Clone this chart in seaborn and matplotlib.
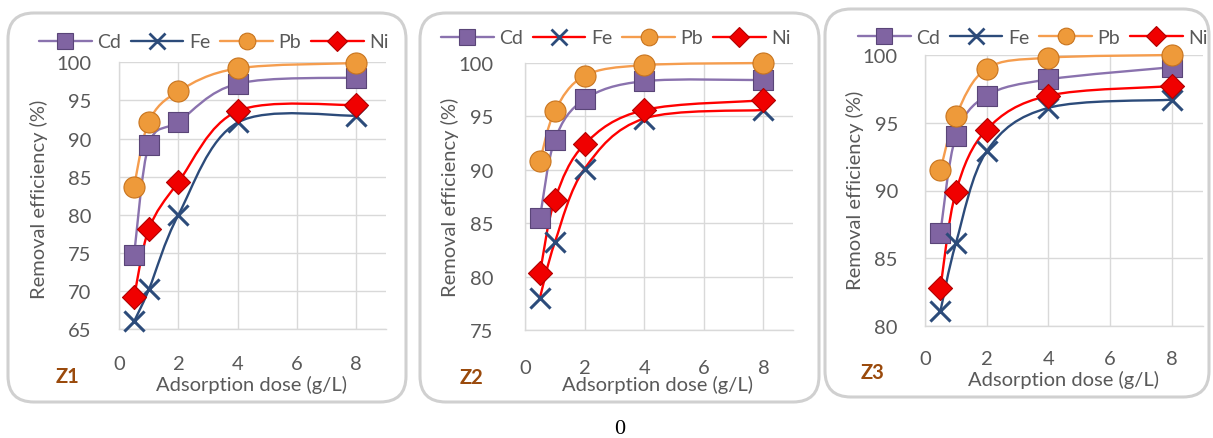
import numpy as np
import matplotlib
matplotlib.use("Agg")
import matplotlib.pyplot as plt
import seaborn as sns
from matplotlib.path import Path
from matplotlib.patches import PathPatch, FancyBboxPatch
from matplotlib.lines import Line2D

# ---------------- data ----------------
dose = [0.5, 1, 2, 4, 8]
metals = ["Cd", "Fe", "Pb", "Ni"]

z1_cd = [74.7, 89.2, 92.2, 97.2, 98.0]
z1_fe = [66.0, 70.2, 80.0, 92.1, 93.0]
z1_pb = [83.7, 92.2, 96.2, 99.2, 99.9]
z1_ni = [69.2, 78.1, 84.3, 93.6, 94.4]

z2_cd = [85.5, 92.8, 96.6, 98.3, 98.4]
z2_fe = [78.0, 83.2, 90.1, 94.8, 95.6]
z2_pb = [90.8, 95.5, 98.8, 99.8, 100.0]
z2_ni = [80.3, 87.2, 92.4, 95.6, 96.5]

z3_cd = [86.9, 94.0, 97.0, 98.2, 99.1]
z3_fe = [81.1, 86.1, 92.9, 96.1, 96.7]
z3_pb = [91.5, 95.5, 99.0, 99.8, 100.0]
z3_ni = [82.8, 89.9, 94.5, 97.0, 97.7]

panel_names = ["Z1", "Z2", "Z3"]
y_ranges = [(65, 100), (75, 100), (80, 100)]
x_ticks = [0, 2, 4, 6, 8]
x_label = "Adsorption dose (g/L)"
y_label = "Removal efficiency (%)"
footer = "0"

panels = [
    [z1_cd, z1_fe, z1_pb, z1_ni],
    [z2_cd, z2_fe, z2_pb, z2_ni],
    [z3_cd, z3_fe, z3_pb, z3_ni],
]

# ---------------- style ----------------
W, H = 1213, 439
sns.set_theme(style="white")
plt.rcParams["font.family"] = ["Lato", "DejaVu Sans"]

TXT = "#595959"
GRID = "#D9D9D9"
marker_style = {
    "Cd": dict(marker="s", face="#8064A2", edge="#5A4578", s=200, line="#8A72AE", ms=11.5),
    "Fe": dict(marker="x", face="#2C4B7A", edge="#2C4B7A", s=210, line="#2C4B7A", ms=11),
    "Pb": dict(marker="o", face="#EE9A3A", edge="#C8741E", s=230, line="#F59D4E", ms=12),
    "Ni": dict(marker="D", face="#F00000", edge="#B00000", s=150, line="#FF0000", ms=10),
}
# per-panel line colour overrides (Z2 Fe curve is red in the original)
line_override = [{}, {"Fe": "#FF0000"}, {}]

# pixel geometry: (left, top, right, bottom)
axes_px = [(119.3, 63.3, 385.7, 330.0),
           (525.0, 64.0, 793.3, 331.0),
           (925.0, 56.0, 1202.7, 327.0)]
boxes_px = [(8, 14, 406, 403), (420, 14, 819, 403), (825, 10, 1209, 398)]
legend_c = [(214, 43), (616, 39), (1033, 38)]
ylab_pos = [(39, 199), (450, 197), (855, 190)]
xlab_pos = [(252, 385), (658, 385), (1064, 380)]
zlab_pos = [(67, 377), (472, 378), (873, 373)]
ytick_pad = [20, 23, 19.5]
xtick_pad = [19, 21, 17]


def smooth_path(xs, ys):
    pts = np.column_stack([xs, ys]).astype(float)
    n = len(pts)
    verts = [pts[0]]
    codes = [Path.MOVETO]
    for i in range(n - 1):
        p_prev = pts[i - 1] if i > 0 else pts[i]
        p_next2 = pts[i + 2] if i + 2 < n else pts[i + 1]
        c1 = pts[i] + (pts[i + 1] - p_prev) / 6.0
        c2 = pts[i + 1] - (p_next2 - pts[i]) / 6.0
        verts += [c1, c2, pts[i + 1]]
        codes += [Path.CURVE4] * 3
    return Path(verts, codes)


fig = plt.figure(figsize=(W / 100, H / 100), dpi=100)
fig.patch.set_facecolor("white")

# background overlay for rounded panel frames
bg = fig.add_axes([0, 0, 1, 1], zorder=-5)
bg.set_xlim(0, W)
bg.set_ylim(H, 0)
bg.axis("off")
for (x0, y0, x1, y1) in boxes_px:
    bg.add_patch(FancyBboxPatch((x0, y0), x1 - x0, y1 - y0,
                                boxstyle="round,pad=0,rounding_size=26",
                                facecolor="white", edgecolor="#D0D0D0", lw=2.2))

for k, series in enumerate(panels):
    l, t, r, b = axes_px[k]
    ax = fig.add_axes([l / W, 1 - b / H, (r - l) / W, (b - t) / H])
    ax.set_facecolor("none")
    ax.set_xlim(0, 9)
    ax.set_ylim(*y_ranges[k])
    ax.set_xticks(x_ticks)
    ax.set_yticks(np.arange(y_ranges[k][0], y_ranges[k][1] + 0.1, 5))
    ax.grid(True, color=GRID, lw=1.0)
    for side in ["top", "right"]:
        ax.spines[side].set_visible(False)
    for side in ["left", "bottom"]:
        ax.spines[side].set_color(GRID)
        ax.spines[side].set_linewidth(1.0)
    ax.tick_params(axis="both", length=0, colors=TXT, labelsize=14.5)
    ax.tick_params(axis="x", pad=xtick_pad[k])
    ax.tick_params(axis="y", pad=ytick_pad[k])
    ax.set_axisbelow(True)

    handles = []
    for name, vals in zip(metals, series):
        st = marker_style[name]
        lc = line_override[k].get(name, st["line"])
        ax.add_patch(PathPatch(smooth_path(dose, vals), facecolor="none",
                               edgecolor=lc, lw=1.7, zorder=2, clip_on=False))
        if st["marker"] == "x":
            sns.scatterplot(x=dose, y=vals, marker="x", s=st["s"], color=st["face"],
                            linewidth=2.2, ax=ax, zorder=3, legend=False, clip_on=False)
        else:
            sns.scatterplot(x=dose, y=vals, marker=st["marker"], s=st["s"],
                            color=st["face"], edgecolor=st["edge"], linewidth=0.8,
                            ax=ax, zorder=3, legend=False, clip_on=False)
        handles.append(Line2D([0], [0], color=lc, lw=1.7, marker=st["marker"],
                              markersize=st["ms"], markerfacecolor=st["face"],
                              markeredgecolor=st["edge"],
                              markeredgewidth=2 if st["marker"] == "x" else 0.8))

    cx, cy = legend_c[k]
    leg = fig.legend(handles, metals, loc="center", bbox_to_anchor=(cx / W, 1 - cy / H),
                     ncol=4, frameon=False, fontsize=14, handlelength=2.7,
                     columnspacing=0.5, handletextpad=0.3, borderaxespad=0,
                     borderpad=0)
    for txt in leg.get_texts():
        txt.set_color(TXT)

    fig.text(ylab_pos[k][0] / W, 1 - ylab_pos[k][1] / H, y_label, rotation=90,
             ha="center", va="center", fontsize=14.5, color=TXT)
    fig.text(xlab_pos[k][0] / W, 1 - xlab_pos[k][1] / H, x_label,
             ha="center", va="center", fontsize=14.5, color=TXT)
    fig.text(zlab_pos[k][0] / W, 1 - zlab_pos[k][1] / H, panel_names[k],
             ha="center", va="center", fontsize=14.5, color="#9A4A0C", fontweight="bold")

fig.text(620 / W, 1 - 430 / H, footer, ha="center", va="center", fontsize=16,
         family=["Liberation Serif", "DejaVu Serif"], color="black")

fig.savefig("out.png", dpi=100, facecolor="white")
